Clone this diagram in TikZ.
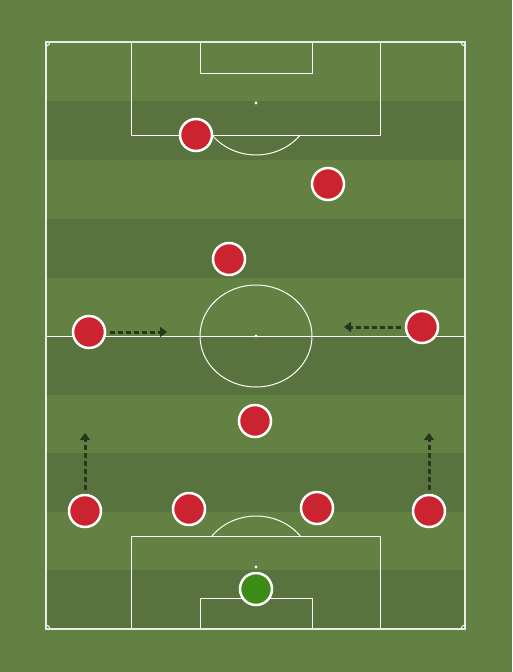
\documentclass[tikz,border=0pt]{standalone}
\usepackage{tikz}
\usepackage{xcolor}
\usetikzlibrary{arrows.meta}

\definecolor{grass}{HTML}{628142}
\definecolor{grassdark}{HTML}{58733D}
\definecolor{shirt}{HTML}{CC2330}
\definecolor{keeper}{HTML}{3B8B17}
\definecolor{runcol}{HTML}{27361D}

\tikzset{
  player/.style={circle,fill=shirt,draw=white,line width=2.5pt,minimum size=32pt,inner sep=0pt},
  goalie/.style={player,fill=keeper},
  pitchline/.style={white,line width=1pt},
  run/.style={runcol,line width=3pt,dash pattern=on 5pt off 3pt,shorten <=4pt,-{Triangle[length=7pt,width=10pt]}}
}

\begin{document}
\begin{tikzpicture}[x=1pt,y=-1pt]
\useasboundingbox (0,0) rectangle (512,672);
\fill[grass] (0,0) rectangle (512,672);
% stripes
\foreach \y in {101,219,336,453,570}
  \fill[grassdark] (46,\y) rectangle (465,\y+59);
% outer lines and halfway line
\draw[pitchline,line width=1.3pt,white!85!grass] (46,42) rectangle (465,629);
\draw[pitchline] (46,336) -- (465,336);
\draw[pitchline] (256,336) ellipse (56 and 51);
\fill[white] (256,336) circle (1.6pt);
% top end
\draw[pitchline] (131,42) -- (131,135) -- (380,135) -- (380,42);
\draw[pitchline] (200,42) -- (200,73) -- (312,73) -- (312,42);
\fill[white] (256,103) circle (1.6pt);
\draw[pitchline] (212,135) arc[start angle=142,end angle=38,x radius=56,y radius=52];
% bottom end
\draw[pitchline] (131,629) -- (131,536) -- (380,536) -- (380,629);
\draw[pitchline] (200,629) -- (200,598) -- (312,598) -- (312,629);
\fill[white] (256,567) circle (1.6pt);
\draw[pitchline] (212,536) arc[start angle=-142,end angle=-38,x radius=56,y radius=52];
% corners
\draw[pitchline] (50,42) arc[start angle=0,end angle=90,radius=4];
\draw[pitchline] (465,46) arc[start angle=90,end angle=180,radius=4];
\draw[pitchline] (46,625) arc[start angle=270,end angle=360,radius=4];
\draw[pitchline] (461,629) arc[start angle=180,end angle=270,radius=4];

% players
\node[goalie] (gk) at (256,589) {};
\node[player] (lb) at (85,511) {};
\node[player] (lcb) at (189,509) {};
\node[player] (rcb) at (317,508) {};
\node[player] (rb) at (429,511) {};
\node[player] (dm) at (255,421) {};
\node[player] (lw) at (89,332) {};
\node[player] (rw) at (422,327) {};
\node[player] (cm) at (229,259) {};
\node[player] (am) at (328,184) {};
\node[player] (st) at (196,135) {};

% runs
\coordinate (lwrun) at (167,332);
\coordinate (rwrun) at (344,327);
\coordinate (lbrun) at (85,433);
\coordinate (rbrun) at (429,433);
\draw[run] (lw) -- (lwrun);
\draw[run] (rw) -- (rwrun);
\draw[run] (lb) -- (lbrun);
\draw[run] (rb) -- (rbrun);

\end{tikzpicture}
\end{document}
